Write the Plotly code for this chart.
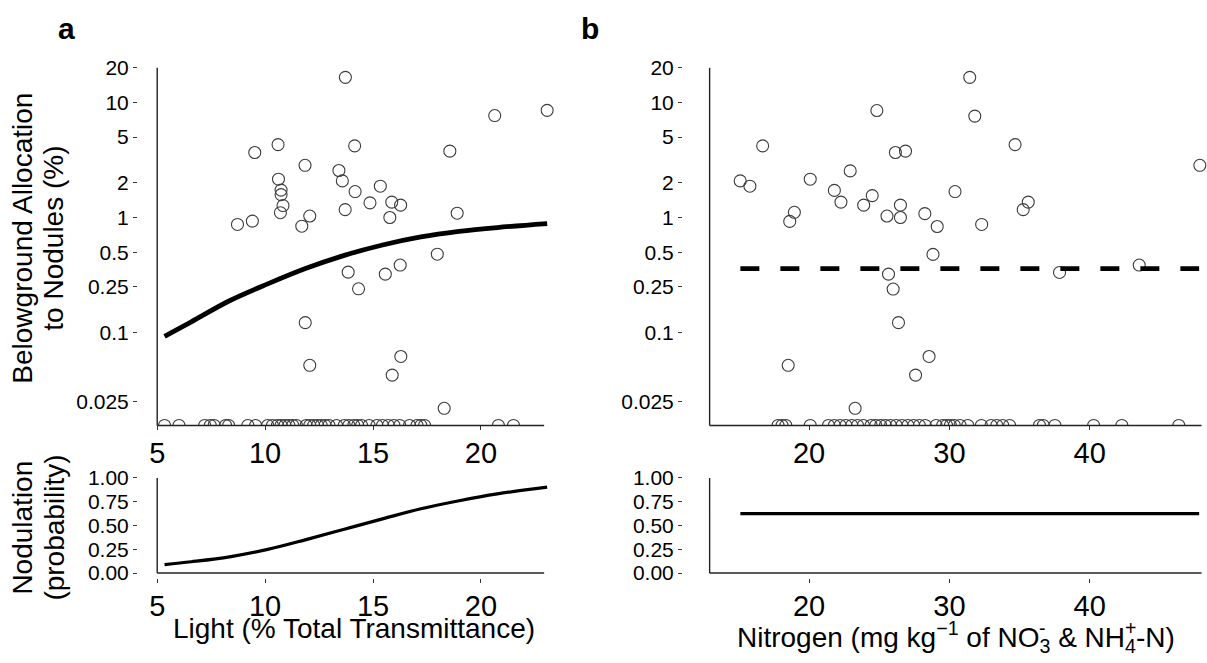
import math
import plotly.graph_objects as go

# ---------------- data ----------------
# Panel a: light (% transmittance) vs belowground allocation to nodules (%), nodulated plants
light_nod = [13.72, 23.07, 20.64, 10.60, 14.15, 9.52, 18.56, 11.85, 13.42, 13.58,
             10.62, 15.34, 10.74, 14.17, 10.74, 14.86, 15.87, 16.28, 10.83, 13.71,
             10.71, 18.90, 12.07, 15.78, 9.41, 8.72, 11.70, 17.98, 16.26, 13.85,
             15.57, 14.33, 11.86, 16.29, 12.07, 15.89, 18.30]
alloc_light = [16.5, 8.53, 7.69, 4.30, 4.19, 3.67, 3.77, 2.84, 2.56, 2.08,
               2.15, 1.87, 1.73, 1.68, 1.58, 1.34, 1.36, 1.28, 1.27, 1.17,
               1.10, 1.09, 1.03, 1.00, 0.93, 0.87, 0.84, 0.48, 0.386, 0.335,
               0.322, 0.24, 0.122, 0.062, 0.052, 0.0427, 0.022]
# plants without nodules (allocation = 0), light values
light_zero = [5.34, 6.01, 7.20, 7.46, 7.64, 8.17, 8.31, 9.20, 9.56, 10.12,
              10.34, 10.57, 10.74, 10.92, 11.10, 11.28, 11.45, 11.90, 12.07, 12.25,
              12.43, 12.60, 12.78, 12.96, 13.31, 13.67, 13.88, 14.11, 14.29, 14.47,
              14.82, 15.18, 15.44, 15.71, 15.97, 16.24, 16.69, 17.04, 17.22, 17.39,
              20.81, 21.51]

# Panel b: nitrogen vs allocation
nitrogen_nod = [31.45, 24.83, 31.81, 16.69, 34.68, 26.15, 26.87, 47.85, 22.93, 20.08,
                15.09, 15.78, 21.80, 30.40, 24.50, 22.27, 35.62, 23.89, 26.51, 35.26,
                18.95, 28.25, 25.55, 26.51, 18.62, 32.30, 29.13, 28.83, 43.53, 37.85,
                25.66, 25.99, 26.37, 28.55, 18.51, 27.59, 23.28]
alloc_nitrogen = [16.5, 8.5, 7.6, 4.19, 4.3, 3.67, 3.77, 2.84, 2.54, 2.15,
                  2.08, 1.87, 1.72, 1.68, 1.55, 1.36, 1.36, 1.28, 1.28, 1.17,
                  1.11, 1.08, 1.03, 1.00, 0.925, 0.87, 0.835, 0.478, 0.386, 0.333,
                  0.322, 0.239, 0.122, 0.062, 0.052, 0.0427, 0.022]
nitrogen_zero = [17.79, 18.07, 18.34, 20.08, 21.38, 21.80, 22.21, 22.62, 23.04, 23.45,
                 23.87, 24.42, 24.75, 25.10, 25.44, 25.80, 26.21, 26.62, 27.04, 27.45,
                 27.86, 28.28, 29.05, 29.52, 29.80, 30.07, 30.35, 30.76, 31.31, 32.28,
                 32.97, 33.38, 33.80, 34.29, 36.42, 36.69, 37.52, 40.28, 42.29, 46.35]

# fitted curves
fit_light_x = [5.34, 6.58, 8.35, 10.12, 11.90, 13.67, 15.44, 17.22, 18.99, 20.76, 23.07]
fit_alloc_light = [0.0928, 0.124, 0.189, 0.265, 0.362, 0.469, 0.577, 0.678, 0.757, 0.818, 0.885]
fit_nod_light = [0.089, 0.119, 0.171, 0.249, 0.352, 0.461, 0.570, 0.676, 0.761, 0.833, 0.904]

fit_nitrogen_x = [15.1, 47.8]
fit_alloc_nitrogen = [0.36, 0.36]
fit_nod_nitrogen = [0.625, 0.625]

alloc_ticks = [0.025, 0.1, 0.25, 0.5, 1, 2, 5, 10, 20]
alloc_ticktext = ["0.025", "0.1", "0.25", "0.5", "1", "2", "5", "10", "20"]
prob_ticks = [0, 0.25, 0.5, 0.75, 1]
prob_ticktext = ["0.00", "0.25", "0.50", "0.75", "1.00"]
light_ticks = [5, 10, 15, 20]
nitrogen_ticks = [20, 30, 40]

# ---------------- layout constants ----------------
W, H = 1207, 663
FONT = "Liberation Sans, Arial, sans-serif"
ZERO_FLOOR = 0.0156          # where zero allocations sit (bottom of log axis)
ALLOC_TOP = 20


def px_x(p):
    return p / W


def px_y(p):
    return 1 - p / H


marker_style = dict(symbol="circle", size=12, color="rgba(0,0,0,0)",
                    line=dict(color="#3c3c3c", width=1.1))

fig = go.Figure()

# panel a top
fig.add_trace(go.Scatter(x=light_zero, y=[ZERO_FLOOR] * len(light_zero), mode="markers",
                         marker=marker_style, xaxis="x", yaxis="y", showlegend=False))
fig.add_trace(go.Scatter(x=light_nod, y=alloc_light, mode="markers",
                         marker=marker_style, xaxis="x", yaxis="y", showlegend=False))
fig.add_trace(go.Scatter(x=fit_light_x, y=fit_alloc_light, mode="lines",
                         line=dict(color="black", width=4.8, shape="spline"),
                         xaxis="x", yaxis="y", showlegend=False))
# panel b top
fig.add_trace(go.Scatter(x=nitrogen_zero, y=[ZERO_FLOOR] * len(nitrogen_zero), mode="markers",
                         marker=marker_style, xaxis="x2", yaxis="y2", showlegend=False))
fig.add_trace(go.Scatter(x=nitrogen_nod, y=alloc_nitrogen, mode="markers",
                         marker=marker_style, xaxis="x2", yaxis="y2", showlegend=False))
fig.add_trace(go.Scatter(x=fit_nitrogen_x, y=fit_alloc_nitrogen, mode="lines",
                         line=dict(color="black", width=4.8, dash="19px,21px"),
                         xaxis="x2", yaxis="y2", showlegend=False))
# bottom panels
fig.add_trace(go.Scatter(x=fit_light_x, y=fit_nod_light, mode="lines",
                         line=dict(color="black", width=3.2, shape="spline"),
                         xaxis="x3", yaxis="y3", showlegend=False))
fig.add_trace(go.Scatter(x=fit_nitrogen_x, y=fit_nod_nitrogen, mode="lines",
                         line=dict(color="black", width=3.2),
                         xaxis="x4", yaxis="y4", showlegend=False))

# pixel geometry of panels
L_DOM = [px_x(138), px_x(556)]
R_DOM = [px_x(683), 1.0]
TOP_DOM = [px_y(425), px_y(57.3)]
BOT_DOM = [px_y(581.7), px_y(474.1)]
L_RANGE = [4.110, 23.48]
R_RANGE = [11.012, 48.36]
P_RANGE = [-0.051, 1.05]
A_RANGE = [math.log10(ZERO_FLOOR), math.log10(ALLOC_TOP)]

tickfont_x = dict(family=FONT, size=29, color="black")
tickfont_y = dict(family=FONT, size=21, color="black")
common = dict(showgrid=False, zeroline=False, showline=False, ticks="outside",
              ticklen=4, tickwidth=1, tickcolor="#333333")
xcommon = dict(common, ticklabelstandoff=-2)

fig.update_layout(
    width=W, height=H, margin=dict(l=0, r=0, t=0, b=0),
    paper_bgcolor="white", plot_bgcolor="white",
    xaxis=dict(domain=L_DOM, range=L_RANGE, anchor="y", tickvals=light_ticks,
               tickfont=tickfont_x, **xcommon),
    yaxis=dict(domain=TOP_DOM, range=A_RANGE, type="log", anchor="x",
               tickvals=alloc_ticks, ticktext=alloc_ticktext, tickfont=tickfont_y, **common),
    xaxis2=dict(domain=R_DOM, range=R_RANGE, anchor="y2", tickvals=nitrogen_ticks,
                tickfont=tickfont_x, **xcommon),
    yaxis2=dict(domain=TOP_DOM, range=A_RANGE, type="log", anchor="x2",
                tickvals=alloc_ticks, ticktext=alloc_ticktext, tickfont=tickfont_y, **common),
    xaxis3=dict(domain=L_DOM, range=L_RANGE, anchor="y3", tickvals=light_ticks,
                tickfont=tickfont_x, **xcommon),
    yaxis3=dict(domain=BOT_DOM, range=P_RANGE, anchor="x3",
                tickvals=prob_ticks, ticktext=prob_ticktext, tickfont=tickfont_y, **common),
    xaxis4=dict(domain=R_DOM, range=R_RANGE, anchor="y4", tickvals=nitrogen_ticks,
                tickfont=tickfont_x, **xcommon),
    yaxis4=dict(domain=BOT_DOM, range=P_RANGE, anchor="x4",
                tickvals=prob_ticks, ticktext=prob_ticktext, tickfont=tickfont_y, **common),
)

# capped axis lines (decoration)
AX_LINE = dict(color="#222222", width=1.4)
L_AXIS_X0, L_AXIS_X1 = 5, 22.93
R_AXIS_X0, R_AXIS_X1 = 12.91, 47.97
shapes = []
for xr, yr, x0, x1, top in [("x", "y", L_AXIS_X0, L_AXIS_X1, True),
                             ("x2", "y2", R_AXIS_X0, R_AXIS_X1, True),
                             ("x3", "y3", L_AXIS_X0, L_AXIS_X1, False),
                             ("x4", "y4", R_AXIS_X0, R_AXIS_X1, False)]:
    if top:
        shapes.append(dict(type="line", xref=xr, yref=yr + " domain", x0=x0, x1=x0, y0=0, y1=1, line=AX_LINE))
        shapes.append(dict(type="line", xref=xr, yref=yr + " domain", x0=x0, x1=x1, y0=0, y1=0, line=AX_LINE))
    else:
        shapes.append(dict(type="line", xref=xr, yref=yr, x0=x0, x1=x0, y0=0, y1=1, line=AX_LINE))
        shapes.append(dict(type="line", xref=xr, yref=yr, x0=x0, x1=x1, y0=0, y1=0, line=AX_LINE))
fig.update_layout(shapes=shapes)

title_font = dict(family=FONT, size=28, color="black")
ann = []


def add_text(text, x, y, angle=0, font=title_font):
    ann.append(dict(text=text, x=px_x(x), y=px_y(y), xref="paper", yref="paper",
                    xanchor="center", yanchor="middle", showarrow=False,
                    textangle=angle, font=font))


add_text("Belowground Allocation", 23, 233, -90)
add_text("to Nodules (%)", 54, 233, -90)
add_text("Nodulation", 23, 530, -90)
add_text("(probability)", 55, 530, -90)
add_text("Light (% Total Transmittance)", 354, 634)
add_text("Nitrogen (mg kg<sup>\u22121</sup> of NO<sub>3</sub> &amp; NH<sub>4</sub>-N)", 956, 642)
# stacked ion charges above the subscripts
small_font = dict(family=FONT, size=19.6, color="black")
add_text("-", 1042.8, 633.4, 0, small_font)
add_text("+", 1130.8, 633.4, 0, small_font)
letter_font = dict(family=FONT, size=30, color="black")
add_text("<b>a</b>", 66, 16.6, 0, letter_font)
add_text("<b>b</b>", 590, 16.6, 0, letter_font)
fig.update_layout(annotations=ann)

fig.write_html("out.html",
               config={"displayModeBar": False, "staticPlot": True},
               post_script="document.body.style.margin='0px';document.body.style.overflow='hidden';")
